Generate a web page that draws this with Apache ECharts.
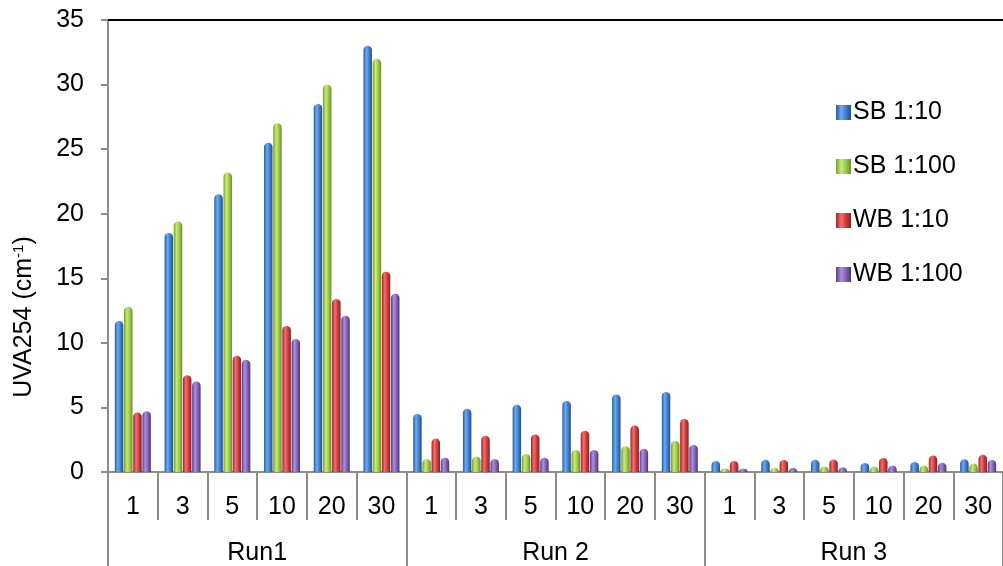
<!DOCTYPE html>
<html>
<head>
<meta charset="utf-8">
<title>UVA254</title>
<script src="https://cdn.jsdelivr.net/npm/echarts@6/dist/echarts.min.js"></script>
<style>
  html, body { margin: 0; padding: 0; background: #fff; }
  #chart { width: 1003px; height: 566px; }
</style>
</head>
<body>
<div id="chart"></div>
<script>
// Dilution steps shown under each bar group, repeated for every run
const doses = ['1', '3', '5', '10', '20', '30'];
const runs = ['Run1', 'Run 2', 'Run 3'];
const seriesNames = ['SB 1:10', 'SB 1:100', 'WB 1:10', 'WB 1:100'];

// UVA254 (cm-1), Run1 | Run 2 | Run 3
const sb10  = [11.7, 18.5, 21.5, 25.5, 28.5, 33.0,  4.5, 4.9, 5.2, 5.5, 6.0, 6.2,  0.85, 0.95, 0.95, 0.70, 0.77, 0.98];
const sb100 = [12.8, 19.4, 23.2, 27.0, 30.0, 32.0,  1.0, 1.2, 1.4, 1.7, 2.0, 2.4,  0.25, 0.33, 0.43, 0.43, 0.51, 0.66];
const wb10  = [ 4.6,  7.5,  9.0, 11.3, 13.4, 15.5,  2.6, 2.8, 2.9, 3.2, 3.6, 4.1,  0.85, 0.93, 0.97, 1.08, 1.28, 1.33];
const wb100 = [ 4.7,  7.0,  8.7, 10.3, 12.1, 13.8,  1.1, 1.0, 1.1, 1.7, 1.8, 2.1,  0.25, 0.33, 0.36, 0.51, 0.72, 0.92];

const yTicks = { min: 0, max: 35, interval: 5 };

// unique keys per bar group; the label formatter shows only the dose
const groupKeys = [];
runs.forEach(r => doses.forEach(d => groupKeys.push(r + '|' + d)));

// cylinder-like shading: dark edges, bright highlight left of centre
function tube(edge, light, base, edge2) {
  return new echarts.graphic.LinearGradient(0, 0, 1, 0, [
    { offset: 0, color: edge },
    { offset: 0.35, color: light },
    { offset: 0.65, color: base },
    { offset: 1, color: edge2 }
  ]);
}
const fills = [
  tube('#2b5c9e', '#6eaaf0', '#3f80d2', '#23508c'),
  tube('#7a9f2c', '#c8ea7e', '#9ccc48', '#6c8e24'),
  tube('#9c2626', '#f27070', '#d43c3c', '#8a2020'),
  tube('#5a3d88', '#ad90da', '#8562b8', '#4e3478')
];
const values = [sb10, sb100, wb10, wb100];

const font = 'Liberation Sans, Arial, sans-serif';
const gray = '#8c8c8c';

const chart = echarts.init(document.getElementById('chart'), null, { renderer: 'canvas' });
chart.setOption({
  animation: false,
  backgroundColor: '#fff',
  textStyle: { fontFamily: font, color: '#000' },
  grid: { left: 108, right: -5, top: 20, bottom: 92, containLabel: false },
  legend: {
    orient: 'vertical',
    left: 831,
    top: 95,
    itemWidth: 15,
    itemHeight: 15,
    itemGap: 29,
    icon: 'rect',
    textStyle: { fontSize: 25, fontFamily: font, color: '#000', padding: [0, 0, 0, -3] },
    data: seriesNames
  },
  xAxis: [
    {
      type: 'category',
      data: groupKeys,
      position: 'bottom',
      axisLine: { lineStyle: { color: gray, width: 2 } },
      axisTick: { show: true, interval: 0, length: 48, lineStyle: { color: gray, width: 2 } },
      axisLabel: {
        interval: 0, margin: 23, fontSize: 25, color: '#000', fontFamily: font,
        formatter: v => v.split('|')[1]
      },
      splitLine: { show: false }
    },
    {
      type: 'category',
      data: runs,
      position: 'bottom',
      offset: 48,
      axisLine: { show: false },
      axisTick: { show: true, interval: 0, length: 46, lineStyle: { color: gray, width: 2 } },
      axisLabel: { interval: 0, margin: 21, fontSize: 25, color: '#000', fontFamily: font },
      splitLine: { show: false }
    },
    {
      type: 'value',
      position: 'top',
      axisLine: { show: true, onZero: false, lineStyle: { color: '#000', width: 2 } },
      axisTick: { show: false },
      axisLabel: { show: false },
      splitLine: { show: false }
    }
  ],
  yAxis: {
    type: 'value',
    min: yTicks.min,
    max: yTicks.max,
    interval: yTicks.interval,
    axisLine: { show: true, lineStyle: { color: gray, width: 2 } },
    axisTick: { show: true, length: 7, lineStyle: { color: gray, width: 2 } },
    axisLabel: { margin: 24, fontSize: 25, color: '#000', fontFamily: font },
    splitLine: { show: false },
    name: 'UVA254 (cm{sup|-1})',
    nameLocation: 'middle',
    nameRotate: 90,
    nameGap: 70,
    nameTextStyle: {
      fontSize: 25, color: '#000', fontFamily: font,
      padding: [0, 142, 0, 0],
      rich: {
        sup: { fontSize: 15, fontFamily: font, color: '#000', verticalAlign: 'top', padding: [0, 0, 12, 0] }
      }
    }
  },
  series: seriesNames.map((name, i) => ({
    name,
    type: 'bar',
    xAxisIndex: 0,
    data: values[i],
    barWidth: 8.5,
    barGap: '8%',
    itemStyle: { color: fills[i], borderRadius: [4.5, 4.5, 0, 0] }
  }))
});
</script>
</body>
</html>
